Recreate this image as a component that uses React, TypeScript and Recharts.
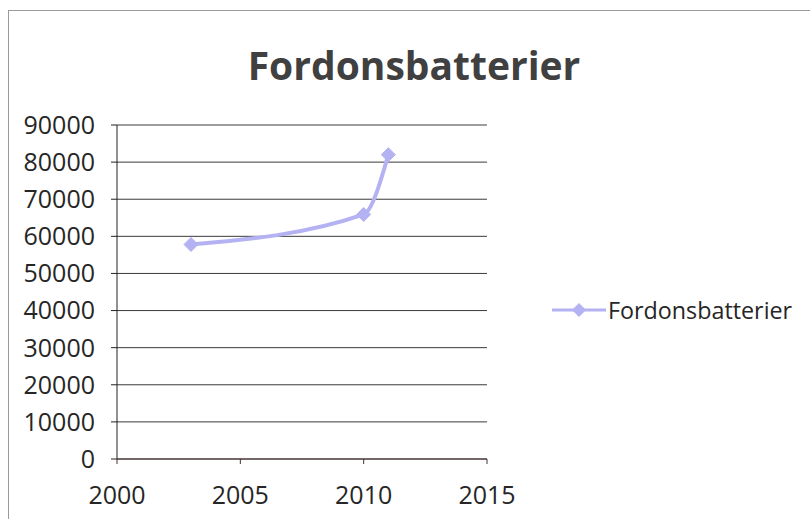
import React from 'react';
import { LineChart, Line, XAxis, YAxis, CartesianGrid } from 'recharts';

const years = [2003, 2010, 2011];
const values = [57800, 65900, 82000];
const xTicks = [2000, 2005, 2010, 2015];
const yTicks = [0, 10000, 20000, 30000, 40000, 50000, 60000, 70000, 80000, 90000];
const seriesName = 'Fordonsbatterier';
const title = 'Fordonsbatterier';

const data = years.map((y, i) => ({ year: y, value: values[i] }));

const LINE = '#b4b2f2';
const FONT = '"Open Sans", "Liberation Sans", sans-serif';

function Diamond(props: any) {
  const { cx, cy } = props;
  if (cx == null || cy == null) return null;
  const r = 7;
  return (
    <path
      d={`M${cx},${cy - r} L${cx + r},${cy} L${cx},${cy + r} L${cx - r},${cy} Z`}
      fill={LINE}
      stroke={LINE}
    />
  );
}

function LegendBox() {
  return (
    <div
      style={{
        position: 'absolute',
        left: 552,
        top: 294,
        display: 'flex',
        alignItems: 'center',
        fontFamily: FONT,
        fontSize: 23.3,
        color: '#262626',
      }}
    >
      <svg width={54} height={20}>
        <line x1={0} y1={10} x2={54} y2={10} stroke={LINE} strokeWidth={3} />
        <path d="M27,3 L34,10 L27,17 L20,10 Z" fill={LINE} />
      </svg>
      <span style={{ marginLeft: 2 }}>{seriesName}</span>
    </div>
  );
}

export default function App() {
  return (
    <div style={{ position: 'relative', width: 810, height: 519, background: '#fff', overflow: 'hidden' }}>
      <style>{'body{margin:0}'}</style>
      <div
        style={{
          position: 'absolute',
          left: 8,
          top: 10,
          width: 820,
          height: 530,
          border: '1px solid #9a9a9a',
          boxSizing: 'border-box',
        }}
      />
      <div
        style={{
          position: 'absolute',
          left: 0,
          width: 828,
          top: 39,
          textAlign: 'center',
          fontFamily: FONT,
          fontWeight: 700,
          fontSize: 39,
          color: '#404040',
          lineHeight: '52px',
        }}
      >
        {title}
      </div>
      <LineChart
        width={810}
        height={519}
        data={data}
        margin={{ top: 125, right: 323, bottom: 30, left: 27 }}
        style={{ position: 'absolute', left: 0, top: 0 }}
      >
        <CartesianGrid vertical={false} stroke="#3a3a3a" strokeWidth={1} />
        <XAxis
          dataKey="year"
          type="number"
          domain={[2000, 2015]}
          ticks={xTicks}
          height={30}
          stroke="#4a3030"
          tickSize={5}
          tickMargin={22}
          tick={{ fill: '#262626', fontSize: 25, fontFamily: FONT }}
        />
        <YAxis
          type="number"
          domain={[0, 90000]}
          ticks={yTicks}
          width={90}
          stroke="#222"
          tickSize={6}
          tickMargin={16}
          tick={{ fill: '#262626', fontSize: 25, fontFamily: FONT }}
        />
        <Line
          type="monotone"
          dataKey="value"
          name={seriesName}
          stroke={LINE}
          strokeWidth={4}
          dot={<Diamond />}
          activeDot={false}
          isAnimationActive={false}
        />
      </LineChart>
      <LegendBox />
    </div>
  );
}
